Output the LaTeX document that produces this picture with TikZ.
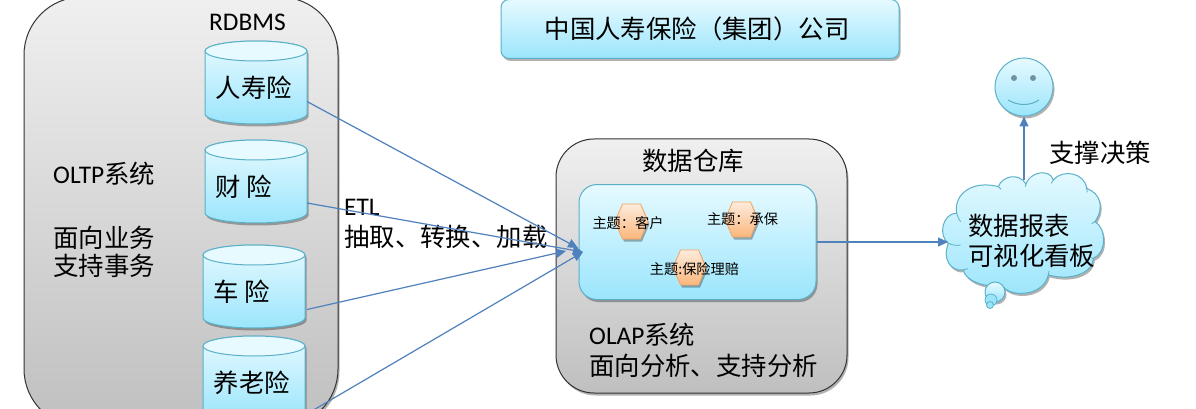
\documentclass[tikz,border=0pt]{standalone}
\usepackage{fontspec}
\setmainfont{Carlito}
\newfontfamily\cjk{Noto Sans CJK SC}
\usetikzlibrary{arrows.meta,shadows,calc}
\definecolor{cEdge}{HTML}{5BB0C8}
\definecolor{cTop}{HTML}{E6FAFF}
\definecolor{cBot}{HTML}{9BE5FC}
\definecolor{cLine}{HTML}{4F81BD}
\definecolor{hexEdge}{HTML}{F5A45D}
\definecolor{hexTop}{HTML}{FDEBDD}
\definecolor{hexBot}{HTML}{FBB77C}
\tikzset{
  softshadow/.style={drop shadow={shadow xshift=1.5pt,shadow yshift=-2.5pt,opacity=.3,fill=black}},
  graybox/.style={draw=black!80,line width=1pt,top color=gray!12,bottom color=gray!50,inner sep=0pt,softshadow},
  bluebox/.style={draw=cEdge,line width=1pt,top color=cTop,bottom color=cBot,inner sep=0pt,softshadow},
  hexa/.style={draw=hexEdge,line width=.8pt,top color=hexTop,bottom color=hexBot,softshadow},
  big/.style={anchor=west,inner sep=0pt,font=\fontsize{25.4}{25.4}\selectfont,text=black},
  small/.style={anchor=center,inner sep=0pt,font=\fontsize{14.2}{14.2}\cjk,text=black},
  flow/.style={draw=cLine,line width=1.2pt,-{Triangle[length=10pt,width=9pt]}},
  ghost/.style={inner sep=0pt,outer sep=0pt},
}
\newcommand\dbcyl[4]{%
  \begin{scope}[shift={(#2,#3)}]
    \path[bluebox] (0,10) -- (0,73) arc[start angle=180,end angle=360,x radius=51pt,y radius=10pt] -- (102,10) arc[start angle=0,end angle=180,x radius=51pt,y radius=10pt] -- cycle;
    \draw[cEdge,line width=1pt,fill=cTop] (51,10) ellipse[x radius=51pt,y radius=10pt];
    \node[ghost,minimum width=102pt,minimum height=83pt] (#1) at (51,41.5) {};
    \node[big] (#1t) at (10.5,47) {\cjk #4};
  \end{scope}}
\newcommand\hexshape[3]{%
  \path[hexa] (#2-16.5,#3) -- (#2-9,#3-17.5) -- (#2+9,#3-17.5) -- (#2+16.5,#3) -- (#2+9,#3+17.5) -- (#2-9,#3+17.5) -- cycle;
  \node[ghost,minimum width=33pt,minimum height=35pt] (#1) at (#2,#3) {};}
\begin{document}
\begin{tikzpicture}[x=1pt,y=-1pt]
\useasboundingbox (0,0) rectangle (1196,409);
\clip (0,0) rectangle (1196,409);
\fill[white] (0,0) rectangle (1196,409);
% left box
\node[graybox,rounded corners=58pt,minimum width=314pt,minimum height=430pt] (oltp) at (181,212) {};
\node[big] (rdbms) at (209,22) {RDBMS};
\dbcyl{c1}{205}{41}{人寿险}
\dbcyl{c2}{205}{140}{财 险}
\dbcyl{c3}{203}{245}{车 险}
\dbcyl{c4}{203}{336}{养老险}
\node[big] (oltpt) at (53,174) {OLTP{\cjk 系统}};
\node[big] (l1) at (53,238) {\cjk 面向业务};
\node[big] (l2) at (53,266) {\cjk 支持事务};
% banner
\node[bluebox,rounded corners=8pt,minimum width=398pt,minimum height=59pt] (banner) at (700,29) {};
\node[big,anchor=center] (bannert) at (697,29) {\cjk 中国人寿保险（集团）公司};
% warehouse
\node[graybox,rounded corners=38pt,minimum width=291pt,minimum height=254pt] (dw) at (701.5,266) {};
\node[big] (dwt) at (642,161) {\cjk 数据仓库};
\node[bluebox,rounded corners=18pt,minimum width=237pt,minimum height=115pt] (inner) at (697.5,242) {};
\hexshape{h1}{631.5}{221.5}
\hexshape{h2}{741.5}{219.5}
\hexshape{h3}{689.5}{267.5}
\node[small] (h1t) at (628,223) {主题：客户};
\node[small] (h2t) at (742.5,219) {主题：承保};
\node[small] (h3t) at (694.5,269) {主题:保险理赔};
\node[big] (olap) at (589,335) {OLAP{\cjk 系统}};
\node[big] (olap2) at (589,366) {\cjk 面向分析、支持分析};
% cloud
\begin{scope}[shift={(930,40)},x=.3333pt,y=-.3333pt]
\path[bluebox] (80,520) .. controls (70,460) and (130,420) .. (205,440)
  .. controls (215,410) and (265,395) .. (288,432)
  .. controls (300,395) and (360,385) .. (370,420)
  .. controls (400,385) and (465,400) .. (470,445)
  .. controls (510,460) and (525,500) .. (495,545)
  .. controls (530,565) and (530,640) .. (490,655)
  .. controls (490,695) and (430,725) .. (355,705)
  .. controls (340,770) and (240,775) .. (215,735)
  .. controls (160,745) and (105,720) .. (100,690)
  .. controls (65,695) and (35,660) .. (55,610)
  .. controls (25,590) and (35,520) .. (80,520) -- cycle;
\draw[cEdge,line width=.8pt] (205,440) -- ++(8,8) (288,432) -- ++(-2,8) (370,420) -- ++(-6,10) (470,445) -- ++(2,12)
  (495,545) -- ++(-10,6) (490,655) -- ++(-8,-2) (355,705) -- ++(2,-12) (215,735) -- ++(-4,-2) (100,690) -- ++(14,-4)
  (55,610) .. controls (65,615) and (80,618) .. (92,615) (80,520) .. controls (82,530) and (88,540) .. (92,545);
\end{scope}
\path[bluebox] (995,292) circle[radius=10pt];
\draw[cEdge,line width=.8pt,fill=cBot] (991,300) circle[radius=6pt];
\draw[cEdge,line width=.8pt,fill=cBot] (990,305) circle[radius=3.5pt];
\node[ghost,minimum width=152pt,minimum height=124pt] (cloud) at (1024,242) {};
\node[big] (cl1) at (968,226) {\cjk 数据报表};
\node[big] (cl2) at (968,256) {\cjk 可视化看板};
% face
\node[bluebox,circle,minimum size=58pt] (face) at (1024,87) {};
\fill[gray!60!cEdge] (1014,78) circle[radius=3pt] (1033,78) circle[radius=3pt];
\draw[cEdge,line width=1pt] (1008,100) .. controls (1018,106) and (1030,106) .. (1039,100);
\node[big] (sup) at (1049,153) {\cjk 支撑决策};
% ETL label
\node[big] (etl) at (344,207) {ETL};
\node[big] (etl2) at (344,237) {\cjk 抽取、转换、加载};
% connectors
\coordinate (inA) at (578,248);
\coordinate (inB) at (583,252);
\coordinate (inC) at (566,251);
\draw[flow] ([yshift=-19pt]c1.east) -- (inA);
\draw[flow] ([yshift=-21.5pt]c2.east) -- (inB);
\draw[flow] ([xshift=2pt,yshift=-23pt]c3.east) -- (inC);
\draw[flow] ([yshift=-37.5pt]c4.east) -- (inB);
\draw[flow] (inner.east) -- (cloud.west);
\draw[flow] (cloud.north) -- (face.south);
\end{tikzpicture}
\end{document}
